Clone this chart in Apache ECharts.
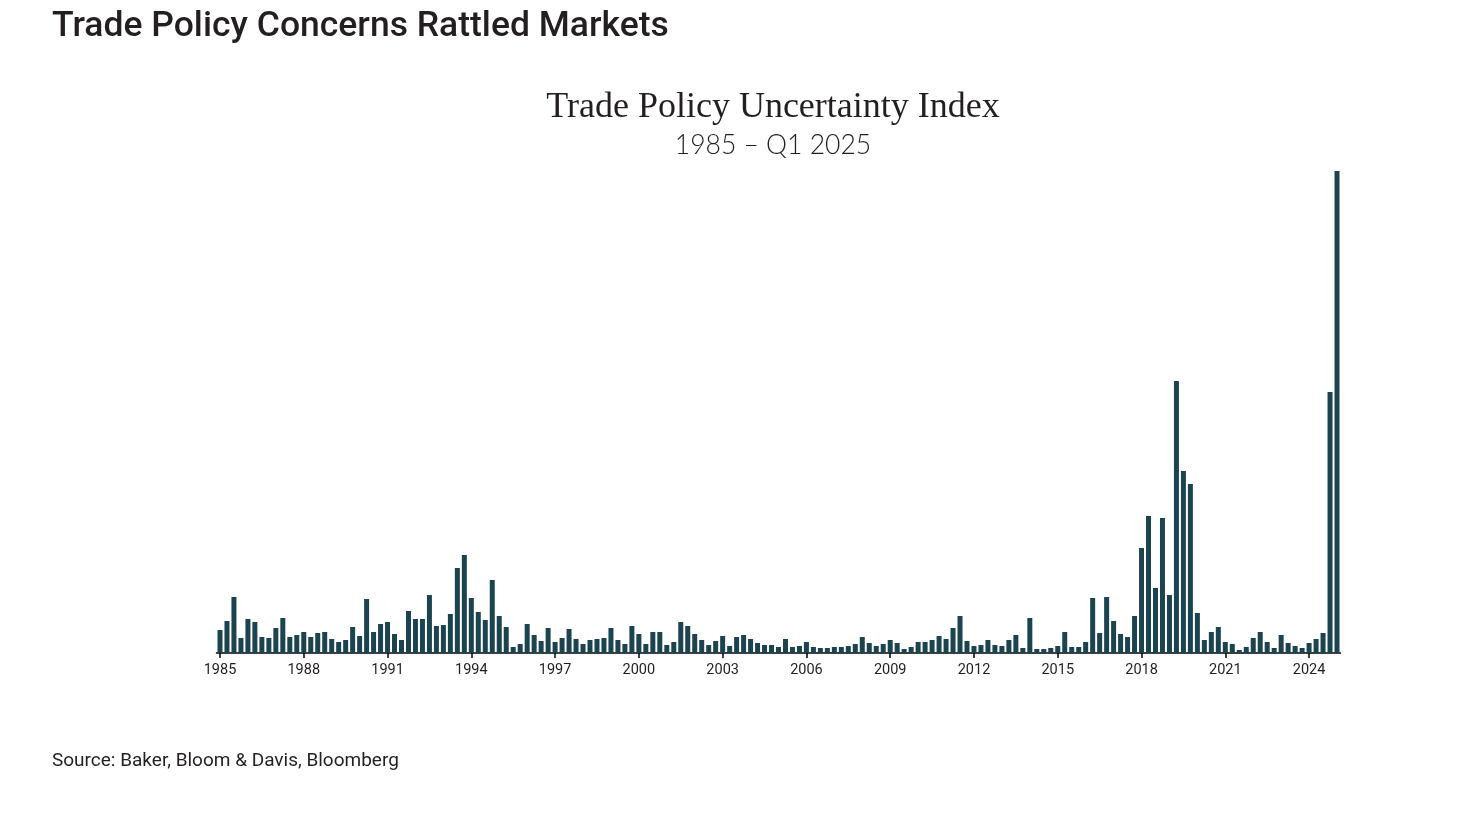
<!DOCTYPE html>
<html>
<head>
<meta charset="utf-8">
<script src="https://cdn.jsdelivr.net/npm/echarts@6/dist/echarts.min.js"></script>
<style>
html,body{margin:0;padding:0;background:#fff;}
#chart{width:1474px;height:822px;}
</style>
</head>
<body>
<div id="chart"></div>
<script>
// Quarterly Trade Policy Uncertainty Index values, 1985 Q1 – 2025 Q1
const years = [];
for (let y = 1985; y <= 2025; y++) years.push(y);
const quarters = ['Q1','Q2','Q3','Q4'];

const values = [
  23, 32, 56, 15,   // 1985
  34, 31, 16, 15,   // 1986
  25, 35, 16, 18,   // 1987
  21, 16, 20, 21,   // 1988
  14, 11, 13, 26,   // 1989
  17, 54, 21, 29,   // 1990
  31, 19, 13, 42,   // 1991
  34, 34, 58, 27,   // 1992
  28, 39, 85, 98,   // 1993
  55, 41, 33, 73,   // 1994
  37, 26, 6, 9,     // 1995
  29, 18, 12, 25,   // 1996
  11, 15, 24, 14,   // 1997
  9, 13, 14, 15,    // 1998
  25, 13, 9, 27,    // 1999
  19, 9, 21, 21,    // 2000
  8, 11, 31, 27,    // 2001
  19, 13, 8, 12,    // 2002
  17, 7, 16, 18,    // 2003
  14, 10, 8, 8,     // 2004
  6, 14, 6, 7,      // 2005
  11, 6, 5, 5,      // 2006
  6, 6, 7, 9,       // 2007
  16, 10, 7, 9,     // 2008
  13, 10, 4, 6,     // 2009
  11, 11, 13, 17,   // 2010
  14, 25, 37, 12,   // 2011
  7, 8, 13, 8,      // 2012
  7, 13, 18, 5,     // 2013
  35, 4, 4, 5,      // 2014
  7, 21, 6, 6,      // 2015
  11, 55, 20, 56,   // 2016
  32, 19, 16, 37,   // 2017
  105, 137, 65, 135,// 2018
  58, 272, 182, 169,// 2019
  40, 13, 21, 26,   // 2020
  11, 9, 3, 6,      // 2021
  15, 21, 11, 5,    // 2022
  18, 10, 7, 5,     // 2023
  10, 14, 20, 261,  // 2024
  482               // 2025 Q1
];

const categories = [];
years.forEach(y => quarters.forEach(q => { if (categories.length < values.length) categories.push(y + ' ' + q); }));

const tickYears = ['1985','1988','1991','1994','1997','2000','2003','2006','2009','2012','2015','2018','2021','2024'];

const chart = echarts.init(document.getElementById('chart'));
chart.setOption({
  backgroundColor: '#ffffff',
  animation: false,
  title: [
    {
      text: 'Trade Policy Concerns Rattled Markets',
      left: 47, top: 4,
      textStyle: { fontFamily: 'Roboto', fontWeight: 500, fontSize: 35.5, color: '#231f20' }
    },
    {
      text: 'Trade Policy Uncertainty Index',
      left: 768, top: 85, textAlign: 'center',
      textStyle: { fontFamily: 'Liberation Serif', fontWeight: 'normal', fontSize: 36, color: '#231f20' }
    },
    {
      text: '1985 – Q1 2025',
      left: 768, top: 127, textAlign: 'center',
      textStyle: { fontFamily: 'Lato', fontWeight: 300, fontSize: 26.5, color: '#231f20' }
    },
    {
      text: 'Source: Baker, Bloom & Davis, Bloomberg',
      left: 47, top: 747,
      textStyle: { fontFamily: 'Roboto', fontWeight: 'normal', fontSize: 19, color: '#231f20' }
    }
  ],
  grid: { left: 216.5, right: 133.5, top: 171, bottom: 169, containLabel: false },
  xAxis: {
    type: 'category',
    data: categories,
    boundaryGap: true,
    axisLine: { show: true, lineStyle: { color: '#000', width: 1.5 } },
    axisTick: {
      show: true, alignWithLabel: true, length: 5,
      interval: (idx) => idx % 12 === 0,
      lineStyle: { color: '#000', width: 1.5 }
    },
    axisLabel: {
      interval: (idx) => idx % 12 === 0,
      formatter: (v) => { const y = v.slice(0, 4); return tickYears.includes(y) ? y : ''; },
      fontFamily: 'Roboto', fontSize: 14.5, color: '#231f20', margin: 10
    },
    splitLine: { show: false }
  },
  yAxis: {
    type: 'value', min: 0, max: 482,
    show: false,
    splitLine: { show: false }
  },
  series: [{
    type: 'bar',
    data: values,
    barWidth: 5,
    itemStyle: { color: '#1c4450' }
  }]
});
</script>
</body>
</html>
